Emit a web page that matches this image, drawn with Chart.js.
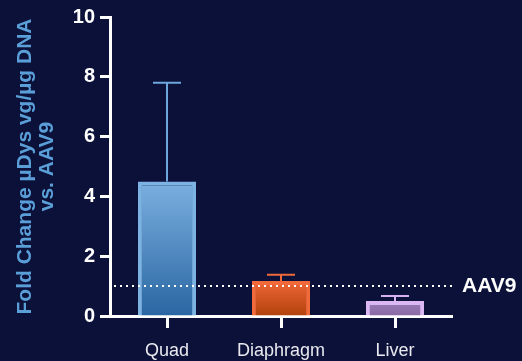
<!DOCTYPE html>
<html>
<head>
<meta charset="utf-8">
<script src="https://cdn.jsdelivr.net/npm/chart.js@4/dist/chart.umd.min.js"></script>
<style>
  html, body { margin: 0; padding: 0; background: #0b1139; }
  canvas { display: block; }
</style>
</head>
<body>
<canvas id="chart" width="522" height="361"></canvas>
<script>
// Vector genome fold change per tissue, relative to AAV9
const tissues = ['Quad', 'Diaphragm', 'Liver'];
const foldChange = [4.5, 1.17, 0.5];
const errorUpper = [7.8, 1.38, 0.67];
const yTickValues = [0, 2, 4, 6, 8, 10];
const referenceLevel = 1;
const referenceLabel = 'AAV9';
const yTitle = ['Fold Change \u00b5Dys vg/\u00b5g DNA', 'vs. AAV9'];

// Per-bar palette
const edgeColors   = ['#7db3e3', '#f26a3a', '#dbb7f3'];
const fillTop      = ['#7bb0e0', '#ee6636', '#9a7cb6'];
const fillBottom   = ['#2a66a2', '#b2420e', '#8a6aa4'];
const whiskerColor = ['#6ea7dc', '#ef6a3a', '#d6b2f1'];

const FONT = '"Liberation Sans", Arial, Helvetica, sans-serif';

// Upward error whiskers with caps, then the dotted reference line
const overlayPlugin = {
  id: 'overlay',
  afterDatasetsDraw(chart) {
    const { ctx, chartArea, scales } = chart;
    const y = scales.y;
    const meta = chart.getDatasetMeta(0);
    ctx.save();
    meta.data.forEach((bar, i) => {
      const x = bar.x;
      const yTop = y.getPixelForValue(errorUpper[i]);
      const yBar = y.getPixelForValue(foldChange[i]);
      ctx.strokeStyle = whiskerColor[i];
      ctx.lineWidth = 2;
      ctx.beginPath();
      ctx.moveTo(x, yBar);
      ctx.lineTo(x, yTop);
      ctx.moveTo(x - 14, yTop);
      ctx.lineTo(x + 14, yTop);
      ctx.stroke();
    });

    const yRef = y.getPixelForValue(referenceLevel);
    ctx.strokeStyle = '#ffffff';
    ctx.lineWidth = 2;
    ctx.setLineDash([2, 4]);
    ctx.beginPath();
    ctx.moveTo(chartArea.left + 4, yRef);
    ctx.lineTo(chartArea.right, yRef);
    ctx.stroke();
    ctx.setLineDash([]);

    ctx.fillStyle = '#ffffff';
    ctx.font = 'bold 21px ' + FONT;
    ctx.textBaseline = 'middle';
    ctx.textAlign = 'left';
    ctx.fillText(referenceLabel, chartArea.right + 10, yRef);
    ctx.restore();
  }
};

new Chart(document.getElementById('chart'), {
  type: 'bar',
  data: {
    labels: tissues,
    datasets: [{
      data: foldChange,
      borderColor: edgeColors,
      borderWidth: 4,
      borderSkipped: 'bottom',
      barPercentage: 0.51,
      categoryPercentage: 1,
      backgroundColor: (c) => {
        const chart = c.chart;
        const y = chart.scales && chart.scales.y;
        const i = c.dataIndex;
        if (!chart.chartArea || !y || c.type !== 'data') return fillTop[i];
        const top = y.getPixelForValue(c.raw);
        const bottom = y.getPixelForValue(0);
        if (!isFinite(top) || !isFinite(bottom) || top === bottom) return fillTop[i];
        const g = chart.ctx.createLinearGradient(0, top, 0, bottom);
        g.addColorStop(0, fillTop[i]);
        g.addColorStop(1, fillBottom[i]);
        return g;
      }
    }]
  },
  options: {
    responsive: false,
    animation: false,
    devicePixelRatio: 1,
    layout: { padding: { top: 15, right: 70, bottom: 0, left: 0 } },
    plugins: {
      legend: { display: false },
      tooltip: { enabled: false }
    },
    scales: {
      x: {
        grid: {
          display: true,
          drawOnChartArea: false,
          drawTicks: true,
          offset: false,
          tickLength: 12,
          tickWidth: 3,
          tickColor: '#ffffff'
        },
        border: { display: true, color: '#ffffff', width: 3 },
        ticks: {
          color: '#e9e9ef',
          font: { family: FONT, size: 18 },
          padding: 12
        },
        afterFit: (s) => { s.height = 45; }
      },
      y: {
        min: 0,
        max: 10,
        afterBuildTicks: (s) => { s.ticks = yTickValues.map(v => ({ value: v })); },
        grid: {
          display: true,
          drawOnChartArea: false,
          drawTicks: true,
          tickLength: 10,
          tickWidth: 3,
          tickColor: '#ffffff'
        },
        border: { display: true, color: '#ffffff', width: 3 },
        ticks: {
          color: '#ffffff',
          font: { family: FONT, size: 20, weight: 'bold' },
          padding: 5
        },
        title: {
          display: true,
          text: yTitle,
          color: '#5b9fd9',
          font: { family: FONT, size: 21, weight: 'bold', lineHeight: 1.05 },
          padding: { top: 14, bottom: 0 }
        },
        afterFit: (s) => { s.width = 110; }
      }
    }
  },
  plugins: [overlayPlugin]
});
</script>
</body>
</html>
